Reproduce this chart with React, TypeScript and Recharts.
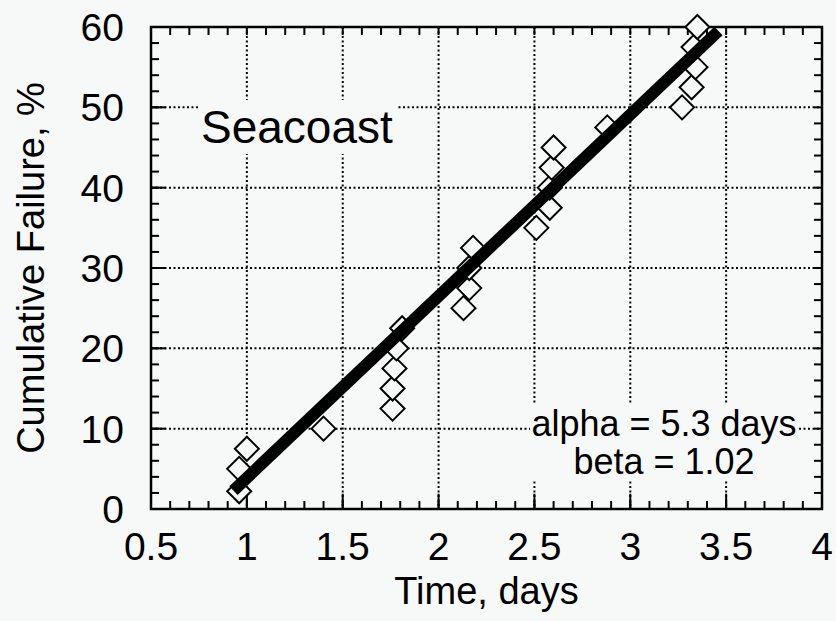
import React from "react"
import {
  ScatterChart,
  Scatter,
  XAxis,
  YAxis,
  CartesianGrid,
  ReferenceArea,
  ReferenceLine,
  Label,
} from "recharts"

// measured points (time in days, cumulative failure in %)
const timeDays = [
  0.96, 0.96, 1.0, 1.4, 1.76, 1.76, 1.77, 1.78, 1.81, 2.13, 2.16, 2.16, 2.18,
  2.51, 2.58, 2.58, 2.59, 2.6, 2.88, 3.27, 3.32, 3.34, 3.33, 3.35,
]
const failurePct = [
  2.2, 5, 7.5, 10, 12.5, 15, 17.5, 20, 22.5, 25, 27.5, 30, 32.5, 35, 37.5, 40,
  42.5, 45, 47.5, 50, 52.5, 55, 57.5, 60,
]

// fitted Weibull line, end points
const fitTime = [0.93, 3.46]
const fitPct = [2.3, 59.5]

const xTicks = [0.5, 1, 1.5, 2, 2.5, 3, 3.5, 4]
const yTicks = [0, 10, 20, 30, 40, 50, 60]
const xMinorTicks = [
  0.5, 0.6, 0.7, 0.8, 0.9, 1, 1.1, 1.2, 1.3, 1.4, 1.5, 1.6, 1.7, 1.8, 1.9, 2,
  2.1, 2.2, 2.3, 2.4, 2.5, 2.6, 2.7, 2.8, 2.9, 3, 3.1, 3.2, 3.3, 3.4, 3.5, 3.6,
  3.7, 3.8, 3.9, 4,
]
const yMinorTicks = [
  0, 2, 4, 6, 8, 10, 12, 14, 16, 18, 20, 22, 24, 26, 28, 30, 32, 34, 36, 38,
  40, 42, 44, 46, 48, 50, 52, 54, 56, 58, 60,
]

const X_MIN = 0.5
const X_MAX = 4
const Y_MIN = 0
const Y_MAX = 60

const points = timeDays.map((t, i) => ({ t, pct: failurePct[i] }))
const fitLine = fitTime.map((t, i) => ({ t, pct: fitPct[i] }))

const BG = "#f7f8f8"
const FONT = "'Liberation Sans', Arial, Helvetica, sans-serif"

// inward tick lengths, in data units (~8px minor, ~15px major)
const xTickMinor = 1.0
const xTickMajor = 1.9
const yTickMinor = 0.042
const yTickMajor = 0.078

const Diamond = (props: any) => {
  const { cx, cy } = props
  if (cx == null || cy == null) return <g />
  const r = 12
  return (
    <polygon
      points={`${cx},${cy - r} ${cx + r},${cy} ${cx},${cy + r} ${cx - r},${cy}`}
      fill={BG}
      stroke="#000"
      strokeWidth={2}
    />
  )
}

const NoDot = () => <g />

const tickStyle = { stroke: "#000", strokeWidth: 2, strokeDasharray: "0" }

export default function App() {
  const tickLines: any[] = []
  xMinorTicks.forEach((v, i) => {
    tickLines.push(
      <ReferenceLine key={`b${i}`} segment={[{ x: v, y: Y_MIN }, { x: v, y: Y_MIN + xTickMinor }]} {...tickStyle} />,
      <ReferenceLine key={`t${i}`} segment={[{ x: v, y: Y_MAX }, { x: v, y: Y_MAX - xTickMinor }]} {...tickStyle} />,
    )
  })
  xTicks.forEach((v, i) => {
    tickLines.push(
      <ReferenceLine key={`bm${i}`} segment={[{ x: v, y: Y_MIN }, { x: v, y: Y_MIN + xTickMajor }]} {...tickStyle} />,
    )
  })
  yMinorTicks.forEach((v, i) => {
    tickLines.push(
      <ReferenceLine key={`l${i}`} segment={[{ x: X_MIN, y: v }, { x: X_MIN + yTickMinor, y: v }]} {...tickStyle} />,
      <ReferenceLine key={`r${i}`} segment={[{ x: X_MAX, y: v }, { x: X_MAX - yTickMinor, y: v }]} {...tickStyle} />,
    )
  })
  yTicks.forEach((v, i) => {
    tickLines.push(
      <ReferenceLine key={`lm${i}`} segment={[{ x: X_MIN, y: v }, { x: X_MIN + yTickMajor, y: v }]} {...tickStyle} />,
    )
  })

  return (
    <div
      style={{
        position: "absolute",
        left: 0,
        top: 0,
        width: 836,
        height: 621,
        background: BG,
        fontFamily: FONT,
      }}
    >
      <ScatterChart
        width={836}
        height={621}
        margin={{ top: 27, right: 14, bottom: 52, left: 31 }}
        style={{ fontFamily: FONT }}
      >
        <CartesianGrid
          stroke="#000"
          strokeWidth={2}
          strokeDasharray="2 2.5"
          horizontal
          vertical
        />
        <XAxis
          type="number"
          dataKey="t"
          domain={[X_MIN, X_MAX]}
          ticks={xTicks}
          interval={0}
          height={60}
          tickSize={0}
          tickMargin={23}
          tickLine={false}
          axisLine={false}
          tick={{ fill: "#000", fontSize: 39 }}
        >
          <Label
            value="Time, days"
            position="bottom"
            offset={8}
            fill="#000"
            fontSize={38}
          />
        </XAxis>
        <YAxis
          type="number"
          dataKey="pct"
          domain={[Y_MIN, Y_MAX]}
          ticks={yTicks}
          interval={0}
          width={120}
          tickSize={0}
          tickMargin={27}
          tickLine={false}
          axisLine={false}
          tick={{ fill: "#000", fontSize: 39 }}
        >
          <Label
            value="Cumulative Failure, %"
            angle={-90}
            position="insideLeft"
            offset={0}
            textAnchor="middle"
            fill="#000"
            fontSize={38}
          />
        </YAxis>

        {tickLines}

        <ReferenceArea
          x1={X_MIN}
          x2={X_MAX}
          y1={Y_MIN}
          y2={Y_MAX}
          fill="none"
          fillOpacity={0}
          stroke="#000"
          strokeWidth={2.5}
        />

        <Scatter
          data={points}
          shape={<Diamond />}
          isAnimationActive={false}
        />
        <Scatter
          data={fitLine}
          line={{ stroke: "#000", strokeWidth: 12 }}
          shape={<NoDot />}
          isAnimationActive={false}
        />
      </ScatterChart>

      <div
        style={{
          position: "absolute",
          left: 198,
          top: 100,
          height: 54,
          padding: "0 3px",
          lineHeight: "54px",
          fontSize: 46,
          color: "#000",
          background: BG,
        }}
      >
        Seacoast
      </div>
      <div
        style={{
          position: "absolute",
          left: 530,
          top: 405,
          width: 268,
          lineHeight: "38px",
          fontSize: 36,
          textAlign: "center",
          color: "#000",
          background: BG,
        }}
      >
        <div>alpha = 5.3 days</div>
        <div>beta = 1.02</div>
      </div>
    </div>
  )
}
